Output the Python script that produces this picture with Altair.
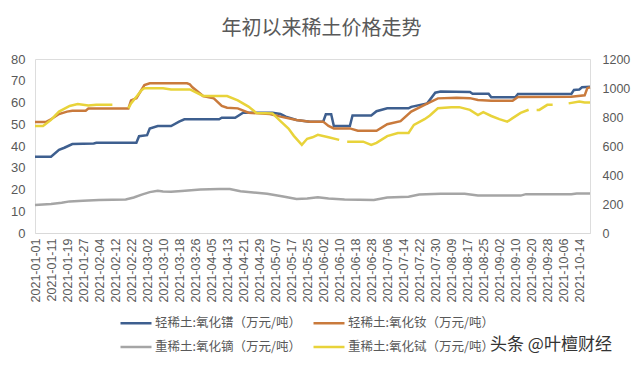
import altair as alt
import pandas as pd

TITLE = "年初以来稀土价格走势"
WATERMARK = "头条 @叶檀财经"
SERIES = ["轻稀土:氧化镨（万元/吨）", "轻稀土:氧化钕（万元/吨）",
          "重稀土:氧化镝（万元/吨）", "重稀土:氧化铽（万元/吨）"]
COLORS = ["#3E5F8F", "#C97A3C", "#A5A5A5", "#E8D33A"]
# legend is filled column by column: put entries so rows read as in the reference
LEGEND_ORDER = [0, 2, 1, 3]

# category labels: every 6th trading day
DATE_LABELS = ["2021-01-01", "2021-01-11", "2021-01-19", "2021-01-27", "2021-02-04",
               "2021-02-12", "2021-02-22", "2021-03-02", "2021-03-10", "2021-03-18",
               "2021-03-26", "2021-04-05", "2021-04-13", "2021-04-21", "2021-04-29",
               "2021-05-07", "2021-05-17", "2021-05-25", "2021-06-02", "2021-06-10",
               "2021-06-18", "2021-06-28", "2021-07-06", "2021-07-14", "2021-07-22",
               "2021-07-30", "2021-08-09", "2021-08-17", "2021-08-25", "2021-09-02",
               "2021-09-10", "2021-09-20", "2021-09-28", "2021-10-06", "2021-10-14"]
LABEL_STEP = 6
LAST_DAY = 208

LEFT_TICKS = [0, 10, 20, 30, 40, 50, 60, 70, 80]
RIGHT_TICKS = [0, 200, 400, 600, 800, 1000, 1200]

# left axis series (trading-day index, value)
pr_x = [0, 6, 9, 11, 14, 22, 23, 38, 39, 42, 43, 46, 51, 54, 56, 69, 70, 75, 78, 89,
        92, 94, 98, 103, 108, 109, 111, 112, 118, 119, 126, 128, 132, 140, 141, 147,
        150, 152, 163, 164, 170, 171, 180, 181, 201, 202, 204, 205, 208]
pr_y = [35.1, 35.1, 38.2, 39.2, 40.9, 41.2, 41.5, 41.5, 44.5, 45, 48, 49.2, 49.2, 51.2,
        52.3, 52.3, 53, 53, 55.3, 55.3, 54.7, 53.5, 52, 51.2, 51.2, 54.6, 54.6, 49.2,
        49.2, 54, 54, 56, 57.3, 57.3, 58, 59.6, 64.5, 65, 64.8, 64, 64, 62.4, 62.4,
        63.9, 63.9, 65.8, 66, 67, 67.2]

nd_x = [0, 4, 6, 9, 12, 14, 19, 20, 35, 36, 38, 41, 43, 57, 58, 59, 63, 67, 70, 72,
        76, 80, 88, 92, 98, 103, 108, 110, 112, 118, 121, 128, 132, 137, 141, 146,
        151, 158, 163, 166, 171, 179, 181, 201, 206, 207, 208]
nd_y = [51, 51, 52.3, 54.7, 55.8, 56.2, 56.2, 57.2, 57.2, 61, 62, 68, 68.8, 68.8, 68.4,
        67, 63, 61.9, 58.4, 57.6, 57.3, 55.3, 54.7, 53.5, 52, 51.2, 51.2, 49.2, 48.1,
        48.1, 47, 47, 50, 51.4, 55.8, 58.9, 61.9, 62.2, 62, 61.2, 60.8, 60.8, 62.5,
        62.7, 63.3, 66.6, 67]

# right axis series
dy_x = [0, 6, 10, 13, 18, 24, 34, 37, 40, 43, 46, 48, 51, 55, 62, 69, 73, 77, 87, 93,
        98, 102, 106, 110, 116, 127, 132, 140, 144, 152, 161, 166, 182, 184, 201, 203, 208]
dy_y = [193, 200, 208, 218, 222, 228, 231, 245, 265, 282, 291, 286, 284, 290, 300, 303,
        303, 288, 270, 252, 234, 238, 247, 238, 231, 228, 245, 250, 265, 270, 270, 258,
        258, 268, 268, 273, 272]

# None marks a gap in the series
tb_x = [0, 3, 6, 9, 13, 16, 20, 23, 29, None, 35, 36, 38, 40, 41, 48, 51, 58, 59, 63,
        72, 76, 80, 83, 89, 92, 95, 97, 100, 102, 104, 106, 110, 114, None, 117, 123,
        126, 128, 132, 136, 140, 142, 146, 148, 151, 156, 159, 163, 166, 168, 171, 174,
        177, 179, 182, 185, None, 188, 189, 192, 194, None, 200, 204, 206, 208]
tb_y = [738, 738, 780, 837, 876, 890, 879, 884, 884, None, 860, 894, 940, 986, 998, 998,
        990, 990, 982, 945, 945, 915, 872, 828, 825, 772, 720, 670, 608, 650, 660, 677,
        660, 642, None, 630, 630, 608, 622, 668, 690, 690, 746, 785, 810, 860, 868, 868,
        849, 813, 834, 807, 785, 768, 792, 828, 850, None, 849, 849, 884, 884, None, 894,
        906, 900, 900]


def table(pairs):
    rows = []
    for name, xs, ys in pairs:
        seg = 0
        for x, y in zip(xs, ys):
            if x is None or y is None:
                seg += 1
                continue
            rows.append({"series": name, "seg": f"{name}-{seg}", "day": x, "value": y})
    return pd.DataFrame(rows)


left_df = table([(SERIES[0], pr_x, pr_y), (SERIES[1], nd_x, nd_y)])
right_df = table([(SERIES[2], dy_x, dy_y), (SERIES[3], tb_x, tb_y)])

TXT = "#595959"
CJK = "Noto Sans CJK SC"
LAT = "Liberation Sans"

label_expr = "[" + ",".join(f"'{d}'" for d in DATE_LABELS) + f"][round(datum.value/{LABEL_STEP})]"

x_enc = alt.X("day:Q",
              scale=alt.Scale(domain=[0, LAST_DAY], nice=False, zero=False),
              axis=alt.Axis(values=[i * LABEL_STEP for i in range(len(DATE_LABELS))],
                            labelExpr=label_expr, labelAngle=270, labelOverlap=False,
                            grid=False, ticks=False, domainColor="#D9D9D9",
                            labelColor=TXT, labelFont=LAT, labelFontSize=12.5,
                            labelPadding=5, title=None))

legend = alt.Legend(title=None, orient="none", legendX=84, legendY=247, columns=2,
                    symbolType="stroke", symbolSize=961, symbolStrokeWidth=2.5,
                    labelFont=CJK, labelFontSize=12.5, labelColor=TXT, labelLimit=0,
                    labelOffset=2, columnPadding=7, rowPadding=-1, padding=0)

color_enc = alt.Color("series:N",
                      scale=alt.Scale(domain=[SERIES[i] for i in LEGEND_ORDER],
                                      range=[COLORS[i] for i in LEGEND_ORDER]),
                      legend=legend)

left = alt.Chart(left_df).mark_line(strokeWidth=2.5).encode(
    x=x_enc,
    y=alt.Y("value:Q", scale=alt.Scale(domain=[LEFT_TICKS[0], LEFT_TICKS[-1]]),
            axis=alt.Axis(values=LEFT_TICKS, grid=False, domain=False, ticks=False,
                          labelColor=TXT, labelFont=LAT, labelFontSize=13,
                          labelPadding=10, title=None)),
    color=color_enc,
    detail="seg:N",
)

right = alt.Chart(right_df).mark_line(strokeWidth=2.5).encode(
    x=x_enc,
    y=alt.Y("value:Q", scale=alt.Scale(domain=[RIGHT_TICKS[0], RIGHT_TICKS[-1]]),
            axis=alt.Axis(orient="right", values=RIGHT_TICKS, format="d", grid=False,
                          domain=False, ticks=False, labelColor=TXT, labelFont=LAT,
                          labelFontSize=12.5, labelPadding=12, title=None)),
    color=color_enc,
    detail="seg:N",
)

mark_df = pd.DataFrame({"t": [WATERMARK]})
watermark = alt.Chart(mark_df).mark_text(font=CJK, fontSize=17, color="#333333",
                                         align="center", baseline="middle").encode(
    text="t:N", x=alt.value(516), y=alt.value(286))

chart = alt.layer(left, right, watermark).resolve_scale(y="independent").properties(
    width=555, height=174,
    title=alt.TitleParams(TITLE, anchor="middle", font=CJK, fontSize=20,
                          fontWeight="normal", color=TXT, offset=14, dx=9),
    autosize=alt.AutoSizeParams(type="none"),
    padding={"left": 27, "top": 51, "right": 42, "bottom": 129},
).configure_view(stroke=None).configure(background="white")

chart.save("out.html", embed_options={"renderer": "svg", "actions": False})
